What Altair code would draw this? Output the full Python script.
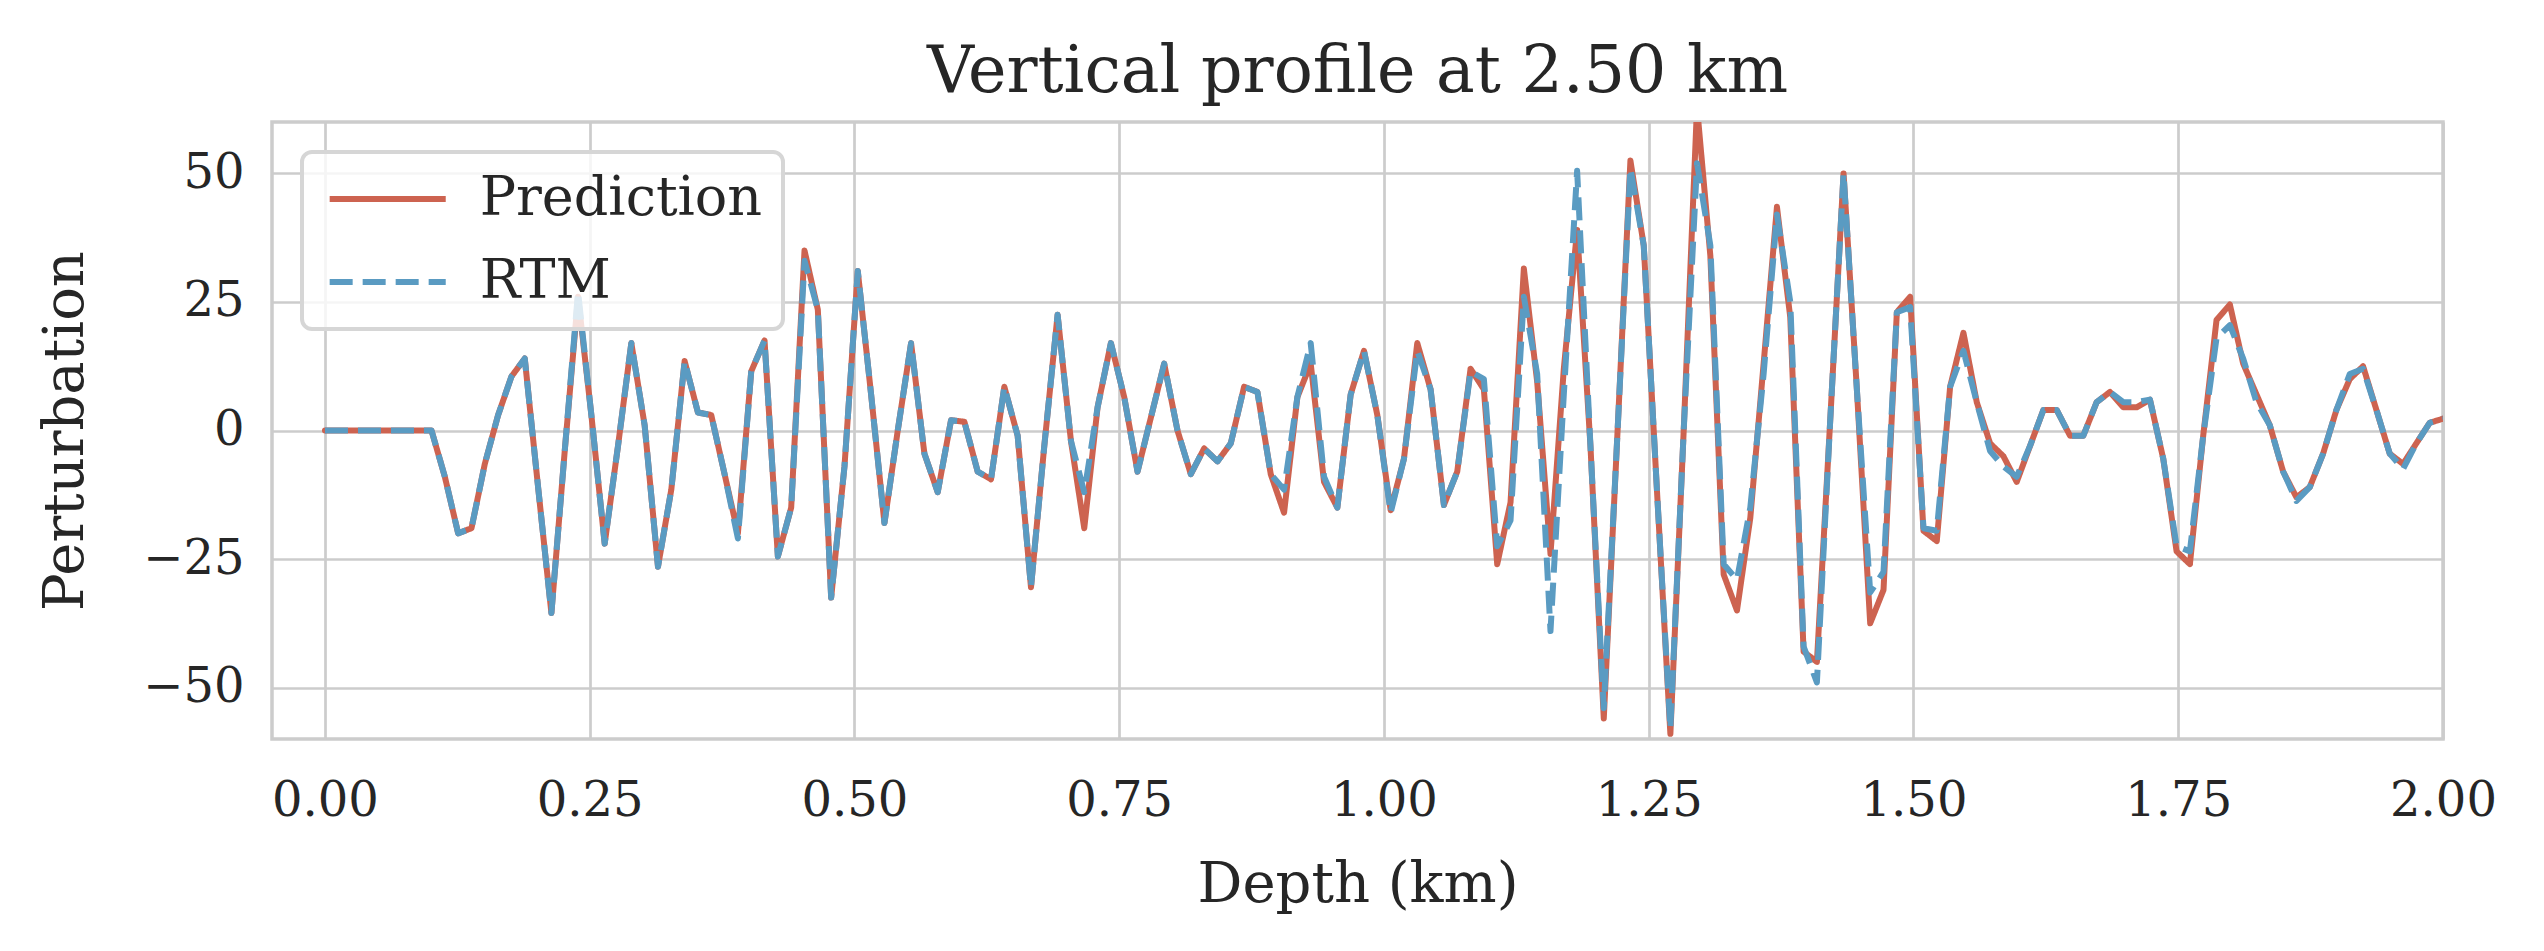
import numpy as np
import pandas as pd
import altair as alt

# ---- data ----
pred = [0, 0, 0, 0, 0, 0, 0, 0, 0, -9,
        -20, -19, -6.5, 3, 10.5, 14, -11, -35.5, -4, 26,
        3, -22, -3, 17, 1, -26.5, -11.5, 13.5, 3.5, 3,
        -8.5, -20, 11.5, 17.5, -24.5, -15, 35, 23.5, -32.5, -7,
        31, 7, -18, 0, 17, -4.5, -12, 2, 1.7, -8,
        -9.5, 8.5, -1, -30.5, -3, 22.5, -2, -19, 4.5, 17,
        6.5, -8, 2.5, 13, 0, -8.5, -3.5, -6, -2.5, 8.5,
        7.5, -8.5, -16, 6.5, 13, -10, -15, 7, 15.5, 3,
        -15.5, -5.5, 17, 8, -14.5, -8, 12, 8, -26, -14,
        31.5, 9.5, -24, 12, 39, -3, -56, -2, 52.5, 36,
        -12, -59, 0, 63, 34, -28, -35, -17, 13, 43.5,
        22, -43, -45, 2, 50, 8, -37.5, -31, 23, 26,
        -19.5, -21.5, 8.5, 19, 5.5, -2.5, -5, -10, -3, 4,
        4, -1, -1, 5.5, 7.5, 4.5, 4.5, 6, -5.5, -23.5,
        -26, -1, 21.5, 24.5, 13, 7, 1, -8, -13, -11,
        -4.5, 4, 10, 12.5, 4, -4.5, -6.5, -2.5, 1.5, 2.3]

rtm = [0, 0, 0, 0, 0, 0, 0, 0, 0, -9,
       -20, -19, -6.5, 3, 10.5, 14, -11, -35.5, -4, 27,
       3, -22, -3, 17, 1, -26.5, -11.5, 13.5, 3.5, 3,
       -8.5, -21, 11.5, 17.5, -24.5, -15, 33, 23.5, -32.5, -7,
       31, 7, -18, 0, 17, -4.5, -12, 2, 1.7, -8,
       -9.5, 8.5, -1, -30.5, -3, 22.5, -2, -12, 4.5, 17,
       6.5, -8, 2.5, 13, 0, -8.5, -3.5, -6, -2.5, 8.5,
       7.5, -8.5, -11.5, 6.5, 17, -9, -15, 7, 15.5, 3,
       -16, -5.5, 15.5, 8, -14.5, -8, 11.5, 10, -22.5, -17.5,
       26, 11, -39, 7, 50.5, -3, -54, -2, 51, 36,
       -12, -58, 0, 52, 36, -26, -29, -15, 11, 42,
       25, -42, -49, 2, 50, 8, -31.5, -27.5, 23, 24,
       -19, -19.5, 8.5, 15.5, 5.5, -4, -7, -9, -3, 4,
       4, -1, -1, 5.5, 7.5, 5.5, 5.5, 6, -5.5, -22.5,
       -23.5, -1, 18, 20.5, 14, 5.5, 1, -8, -13.7, -11,
       -4.5, 4, 11, 12, 4, -4.5, -7.5, -2.5, 1.5, 2.3]

# depth sampling grid of the profile (km)
depth = np.linspace(0.0, 2.0, len(pred))

series_names = ["Prediction", "RTM"]
series_colors = ["#cd6350", "#5a9bc2"]
series_dashes = [[1, 0], [23, 10]]

x_ticks = [0.0, 0.25, 0.5, 0.75, 1.0, 1.25, 1.5, 1.75, 2.0]
y_ticks = [-50, -25, 0, 25, 50]

df = pd.DataFrame({
    "depth": np.concatenate([depth, depth]),
    "value": list(pred) + list(rtm),
    "series": [series_names[0]] * len(pred) + [series_names[1]] * len(rtm),
})

FONT = "DejaVu Serif"
TXT = "#262626"
GRID = "#cccccc"

PLOT_W = 2171
PLOT_H = 617

x_enc = alt.X(
    "depth:Q",
    scale=alt.Scale(domain=[-0.05, 2.0], nice=False, zero=False),
    axis=alt.Axis(
        title="Depth (km)", values=x_ticks, format=".2f",
        labelPadding=38, labelFlush=False, labelOverlap=False,
        titleX=PLOT_W / 2, titleY=145, titleAlign="center", titleBaseline="middle",
    ),
)
y_enc = alt.Y(
    "value:Q",
    scale=alt.Scale(domain=[-60, 60], nice=False, zero=False),
    axis=alt.Axis(
        title="Perturbation", values=y_ticks, format="d",
        labelExpr="replace(datum.label, '-', '\u2212')",
        labelPadding=28, labelFlush=False, labelOverlap=False,
        titleX=-207, titleY=PLOT_H / 2, titleAngle=270,
        titleAlign="center", titleBaseline="middle",
    ),
)
color_enc = alt.Color(
    "series:N", title=None,
    scale=alt.Scale(domain=series_names, range=series_colors),
)
dash_enc = alt.StrokeDash(
    "series:N", title=None,
    scale=alt.Scale(domain=series_names, range=series_dashes),
)

base = alt.Chart(df).encode(x=x_enc, y=y_enc, color=color_enc, strokeDash=dash_enc)

pred_line = base.transform_filter(
    alt.datum.series == series_names[0]
).mark_line(strokeWidth=6, strokeCap="round", strokeJoin="round", clip=True)

rtm_line = base.transform_filter(
    alt.datum.series == series_names[1]
).mark_line(strokeWidth=6, strokeCap="butt", strokeJoin="round", clip=True)

chart = alt.layer(pred_line, rtm_line).properties(
    width=PLOT_W,
    height=PLOT_H,
    autosize=alt.AutoSizeParams(type="none"),
    padding={"left": 264, "top": 114, "right": 90, "bottom": 200},
    title=alt.TitleParams(
        text="Vertical profile at 2.50 km",
        font=FONT, fontSize=65, fontWeight="normal", color=TXT,
        anchor="middle", baseline="alphabetic", offset=17, dy=52,
    ),
).configure_view(
    stroke=GRID, strokeWidth=3.5,
).configure_axis(
    labelFont=FONT, labelFontSize=48, labelColor=TXT,
    titleFont=FONT, titleFontSize=56, titleColor=TXT, titleFontWeight="normal",
    grid=True, gridColor=GRID, gridWidth=2.7,
    domain=False, ticks=False, tickSize=0,
).configure_legend(
    orient="none", legendX=30, legendY=30, direction="vertical",
    padding=20, rowPadding=29,
    symbolType="M-3,0H3", symbolSize=1497,
    symbolStrokeWidth=6, symbolOffset=38.7, labelOffset=65,
    labelFont=FONT, labelFontSize=54, labelColor=TXT, labelLimit=600,
    fillColor="rgba(255,255,255,0.8)", strokeColor="#d6d6d6", strokeWidth=4,
    cornerRadius=10,
)

chart.save("out.html", embed_options={"renderer": "svg", "actions": False})
